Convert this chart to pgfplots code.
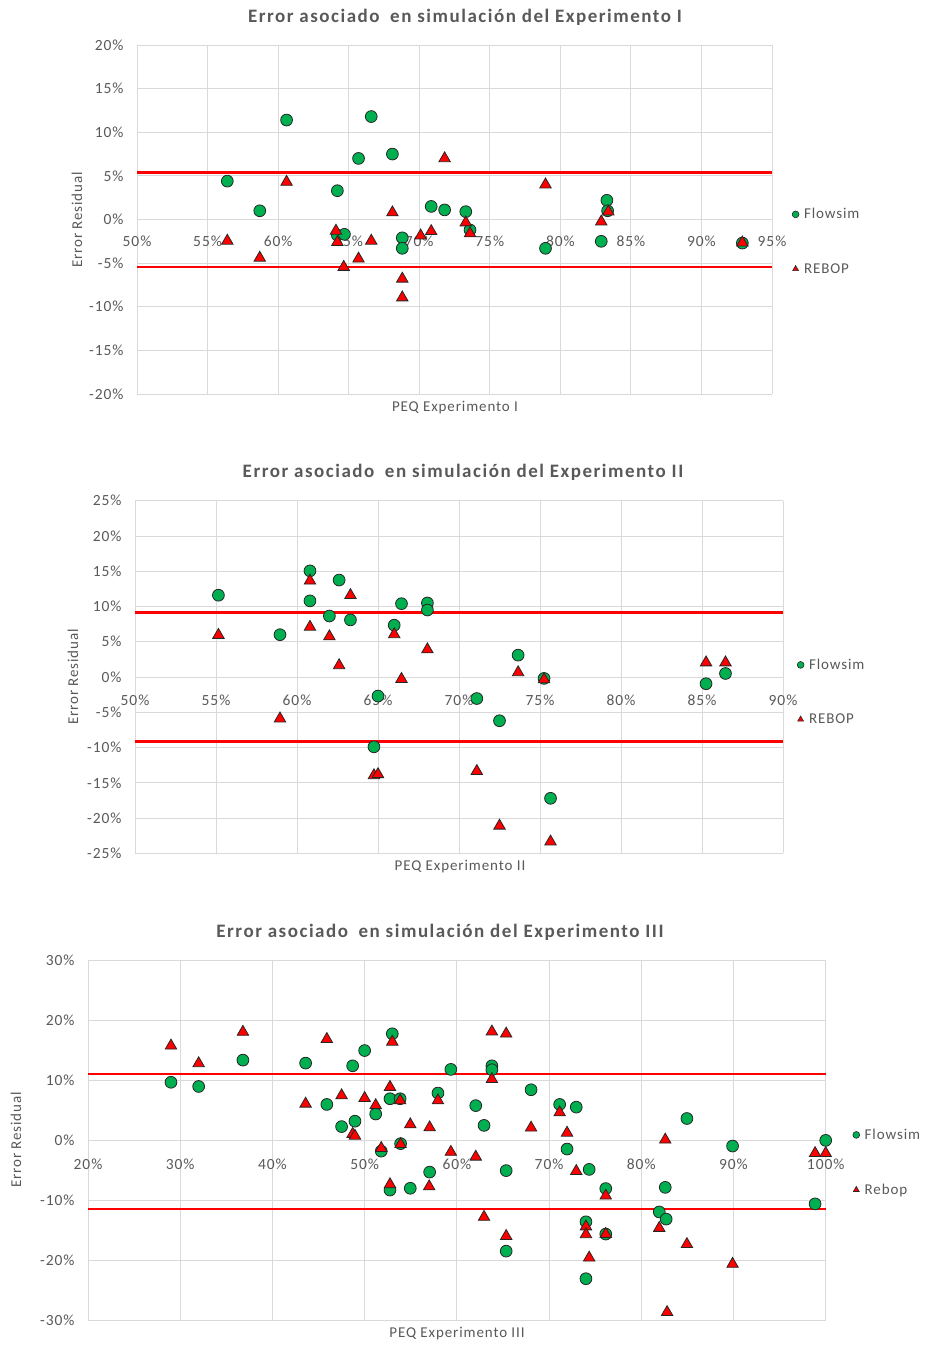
\documentclass[border=0pt]{standalone}
\usepackage{pgfplots}
\pgfplotsset{compat=1.18}
\usepackage{fontspec}
\setmainfont{Carlito}
\newfontfamily\lblfont[LetterSpace=6]{Carlito}
\newfontfamily\ttlfont[LetterSpace=8]{Carlito}

\definecolor{txtgray}{HTML}{595959}
\definecolor{gridgray}{HTML}{D9D9D9}
\definecolor{flowgreen}{HTML}{00B050}
\definecolor{rebopred}{HTML}{FF0000}

\newcommand\ttlsize{\ttlfont\bfseries\fontsize{19}{22}\selectfont}
\newcommand\lblsize{\lblfont\fontsize{15}{17}\selectfont}

\pgfplotsset{
  residstyle/.style={
    scale only axis,
    anchor=south west,
    axis x line=middle,
    axis y line=left,
    axis line style={draw=gridgray, line width=0.9pt, -},
    hide obscured x ticks=false,
    grid=major,
    grid style={draw=gridgray, line width=0.9pt},
    major tick length=0pt,
    tick label style={font=\lblfont\fontsize{15.5}{17}\selectfont, text=txtgray},
    xticklabel style={anchor=north, yshift=-13pt},
    yticklabel style={anchor=east, xshift=-10pt},
    clip=false,
    legend cell align=left,
    legend style={draw=none, fill=none, font=\lblsize,
      text=txtgray, row sep=39pt, anchor=west,
      /tikz/column 1/.style={column sep=3pt}},
    legend image code/.code={\draw[##1, mark size=3.4pt, line width=0.6pt]
      plot coordinates {(0pt,0pt)};},
  },
  flow/.style={only marks, mark=*, mark size=5.9pt, draw=black!85,
    fill=flowgreen, line width=0.8pt},
  rebop/.style={only marks, mark=triangle*, mark size=6.6pt, draw=black!85,
    fill=rebopred, line width=0.8pt},
  limit/.style={draw=rebopred, line width=2.4pt, forget plot},
}

\begin{document}
\begin{tikzpicture}[x=1pt,y=1pt]
\path[use as bounding box] (0,0) rectangle (925,-1345);

% ---------- Experimento I ----------
\node[font=\ttlsize, text=txtgray] at (465,-17)
  {Error asociado\hspace{0.25em} en simulación del Experimento I};
\node[rotate=90, font=\lblsize, text=txtgray] at (77,-220) {Error Residual};
\node[font=\lblsize, text=txtgray] at (455,-408) {PEQ Experimento I};
\begin{axis}[residstyle,
  at={(137pt,-394pt)}, width=635pt, height=349pt,
  xmin=50, xmax=95, ymin=-20, ymax=20,
  xtick={50,55,60,65,70,75,80,85,90,95},
  xticklabels={50\%,55\%,60\%,65\%,70\%,75\%,80\%,85\%,90\%,95\%},
  ytick={-20,-15,-10,-5,0,5,10,15,20},
  yticklabels={-20\%,-15\%,-10\%,-5\%,0\%,5\%,10\%,15\%,20\%},
  legend style={at={(axis description cs:1,0.5)}, xshift=17pt, yshift=-22pt},
]
\addplot[limit] coordinates {(50,5.4) (95,5.4)};
\addplot[limit] coordinates {(50,-5.45) (95,-5.45)};
\addplot[flow] coordinates {
  (56.4,4.4) (58.7,1.0) (60.6,11.4) (64.2,3.3) (64.2,-1.8) (64.7,-1.7)
  (65.7,7.0) (66.6,11.8) (68.1,7.5) (68.8,-2.1) (68.8,-3.3) (70.85,1.5)
  (71.8,1.1) (73.3,0.9) (73.6,-1.2) (78.95,-3.3) (82.9,-2.5) (83.3,2.2)
  (83.35,1.0) (92.9,-2.7)};
\addlegendentry{Flowsim}
\addplot[rebop] coordinates {
  (56.4,-2.45) (58.7,-4.4) (60.6,4.3) (64.1,-1.3) (64.2,-2.6) (64.65,-5.45)
  (65.7,-4.5) (66.6,-2.45) (68.1,0.8) (68.8,-6.8) (68.8,-8.95) (70.1,-1.85)
  (70.85,-1.35) (71.8,7.0) (73.3,-0.35) (73.6,-1.6) (78.95,4.0) (82.9,-0.25)
  (83.4,0.9) (92.9,-2.65)};
\addlegendentry{REBOP}
\end{axis}

% ---------- Experimento II ----------
\node[font=\ttlsize, text=txtgray] at (463,-472)
  {Error asociado\hspace{0.25em} en simulación del Experimento II};
\node[rotate=90, font=\lblsize, text=txtgray] at (73,-677) {Error Residual};
\node[font=\lblsize, text=txtgray] at (460,-867) {PEQ Experimento II};
\begin{axis}[residstyle,
  at={(135pt,-853.3pt)}, width=648pt, height=352.6pt,
  xmin=50, xmax=90, ymin=-25, ymax=25,
  xtick={50,55,60,65,70,75,80,85,90},
  xticklabels={50\%,55\%,60\%,65\%,70\%,75\%,80\%,85\%,90\%},
  ytick={-25,-20,-15,-10,-5,0,5,10,15,20,25},
  yticklabels={-25\%,-20\%,-15\%,-10\%,-5\%,0\%,5\%,10\%,15\%,20\%,25\%},
  xticklabel style={yshift=-1pt},
  legend style={at={(axis description cs:1,0.5)}, xshift=11pt, yshift=-15pt},
]
\addplot[limit] coordinates {(50,9.15) (90,9.15)};
\addplot[limit] coordinates {(50,-9.15) (90,-9.15)};
\addplot[flow] coordinates {
  (55.15,11.6) (58.95,6.0) (60.8,15.05) (60.8,10.8) (62.0,8.65) (62.6,13.75)
  (63.3,8.1) (65.0,-2.7) (64.75,-9.9) (66.0,7.35) (66.45,10.4) (68.05,10.5)
  (68.05,9.5) (71.1,-3.05) (72.5,-6.2) (73.65,3.1) (75.25,-0.2) (75.65,-17.2)
  (85.25,-0.95) (86.45,0.5)};
\addlegendentry{Flowsim}
\addplot[rebop] coordinates {
  (55.15,5.95) (58.95,-5.9) (60.8,13.65) (60.8,7.1) (62.0,5.75) (62.6,1.65)
  (63.3,11.6) (64.75,-13.95) (65.0,-13.8) (66.0,6.05) (66.45,-0.3) (68.05,3.9)
  (71.1,-13.35) (72.5,-21.1) (73.65,0.65) (75.25,-0.35) (75.65,-23.35)
  (85.25,2.05) (86.45,2.05)};
\addlegendentry{REBOP}
\end{axis}

% ---------- Experimento III ----------
\node[font=\ttlsize, text=txtgray] at (440,-932)
  {Error asociado\hspace{0.25em} en simulación del Experimento III};
\node[rotate=90, font=\lblsize, text=txtgray] at (16,-1140) {Error Residual};
\node[font=\lblsize, text=txtgray] at (457,-1334) {PEQ Experimento III};
\begin{axis}[residstyle,
  at={(88pt,-1320pt)}, width=737.7pt, height=359.3pt,
  xmin=20, xmax=100, ymin=-30, ymax=30,
  xtick={20,30,40,50,60,70,80,90,100},
  xticklabels={20\%,30\%,40\%,50\%,60\%,70\%,80\%,90\%,100\%},
  ytick={-30,-20,-10,0,10,20,30},
  yticklabels={-30\%,-20\%,-10\%,0\%,10\%,20\%,30\%},
  xticklabel style={yshift=-2pt},
  legend style={at={(axis description cs:1,0.5)}, xshift=24pt, yshift=-22pt},
]
\addplot[limit] coordinates {(20,11.1) (100,11.1)};
\addplot[limit] coordinates {(20,-11.45) (100,-11.45)};
\addplot[flow] coordinates {
  (29.0,9.7) (32.0,9.0) (36.8,13.4) (43.6,12.9) (45.9,6.0) (47.5,2.3)
  (48.7,12.45) (48.95,3.2) (50.0,15.0) (51.2,4.4) (51.8,-1.8) (52.75,6.95)
  (52.75,-8.3) (53.0,17.8) (53.85,6.95) (53.9,-0.55) (54.95,-8.0) (57.05,-5.3)
  (57.95,7.9) (59.35,11.85) (62.05,5.8) (62.95,2.5) (63.8,12.45) (63.8,11.8)
  (65.35,-5.05) (65.35,-18.5) (68.05,8.45) (71.15,6.0) (71.95,-1.45)
  (72.95,5.55) (74.0,-13.6) (74.0,-23.1) (74.35,-4.85) (76.15,-8.05)
  (76.15,-15.65) (81.95,-11.95) (82.6,-7.85) (82.7,-13.15) (84.95,3.65)
  (89.9,-0.95) (98.85,-10.6) (100,0.0)};
\addlegendentry{Flowsim}
\addplot[rebop] coordinates {
  (29.0,15.8) (32.0,12.85) (36.8,18.1) (43.6,6.1) (45.9,16.9) (47.5,7.5)
  (48.7,1.05) (48.95,0.75) (50.0,7.05) (51.2,5.85) (51.8,-1.3) (52.75,8.9)
  (52.75,-7.35) (53.0,16.45) (53.85,6.65) (53.9,-0.65) (54.95,2.65)
  (57.05,2.15) (57.0,-7.7) (57.95,6.65) (59.35,-1.95) (62.05,-2.75)
  (62.95,-12.8) (63.8,18.15) (63.8,10.2) (65.35,17.8) (65.35,-16.0)
  (68.05,2.1) (71.15,4.65) (71.95,1.25) (72.95,-5.15) (74.0,-14.4)
  (74.0,-15.7) (74.35,-19.6) (76.15,-9.25) (76.15,-15.65) (81.95,-14.65)
  (82.6,0.1) (82.8,-28.7) (84.95,-17.35) (89.9,-20.65) (98.85,-2.15)
  (100,-2.15)};
\addlegendentry{Rebop}
\end{axis}
\end{tikzpicture}
\end{document}
